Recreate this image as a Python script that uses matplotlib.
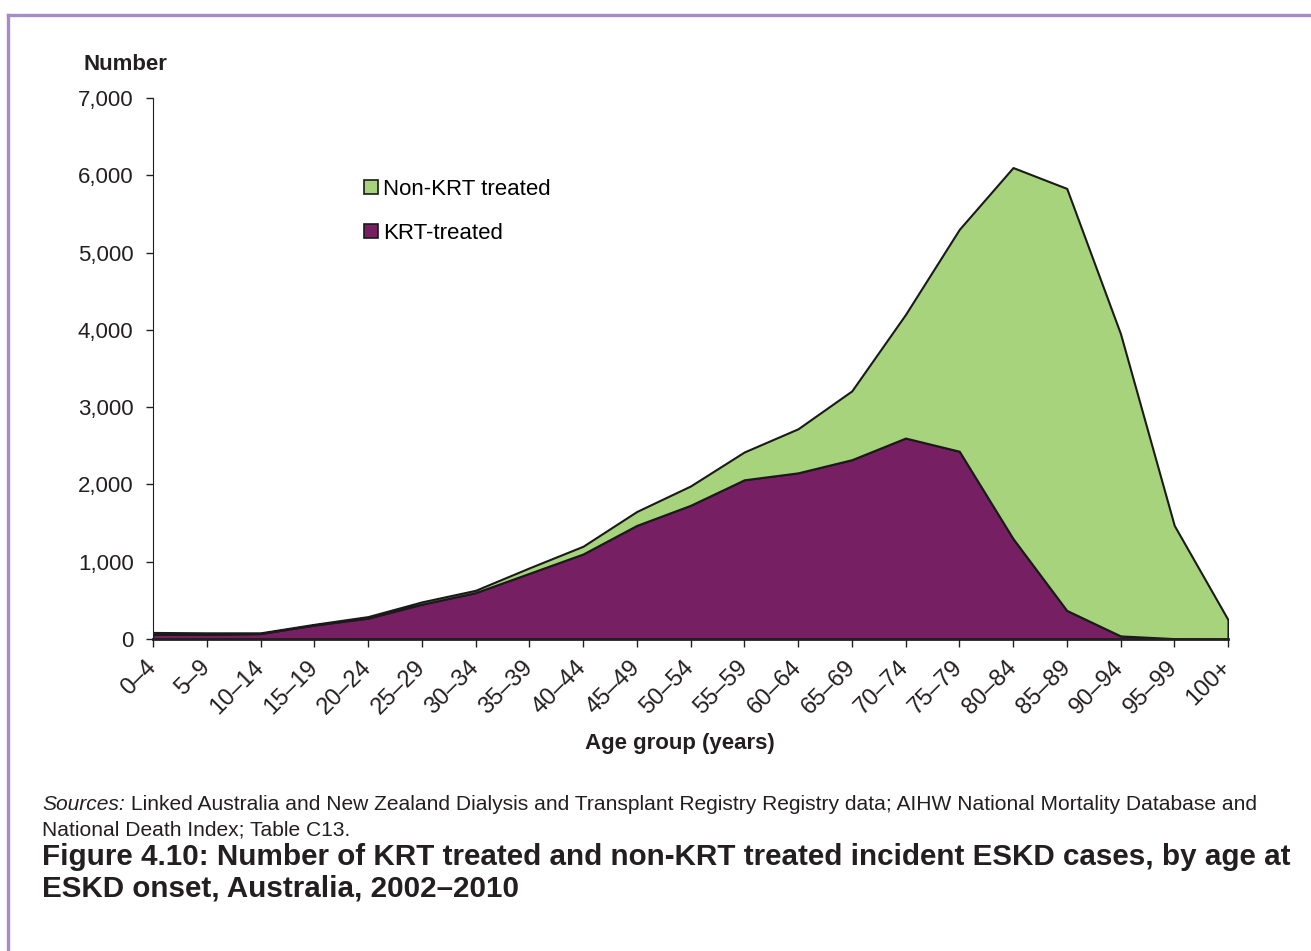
import matplotlib
matplotlib.use("Agg")
import matplotlib.pyplot as plt
from matplotlib.lines import Line2D
from matplotlib.ticker import FuncFormatter

plt.rcParams['font.family'] = ['Liberation Sans', 'DejaVu Sans']

age_groups = ['0–4', '5–9', '10–14', '15–19', '20–24', '25–29', '30–34', '35–39',
              '40–44', '45–49', '50–54', '55–59', '60–64', '65–69', '70–74', '75–79',
              '80–84', '85–89', '90–94', '95–99', '100+']
krt = [60, 60, 70, 180, 270, 450, 600, 850, 1100, 1470, 1730, 2060, 2150, 2320,
       2600, 2430, 1300, 370, 40, 5, 0]
total = [85, 80, 80, 190, 290, 480, 630, 920, 1200, 1650, 1980, 2420, 2720, 3210,
         4200, 5300, 6100, 5830, 3950, 1470, 250]
non_krt = [t - k for t, k in zip(total, krt)]

purple = '#762063'
green = '#A7D37C'
ink = '#231f20'

fig = plt.figure(figsize=(13.11, 9.51), dpi=100)
ax = fig.add_axes([153/1311, 1 - 639/951, (1228 - 153)/1311, (639 - 98)/951])

x = list(range(len(age_groups)))
ax.stackplot(x, krt, non_krt, colors=[purple, green], edgecolor='#1a1a1a', linewidth=1.5)

ax.set_xlim(0, len(age_groups) - 1)
ax.set_ylim(0, 7000)
ax.set_yticks(range(0, 7001, 1000))
ax.yaxis.set_major_formatter(FuncFormatter(lambda v, p: f'{int(v):,}'))
ax.set_xticks(x)
ax.set_xticklabels(age_groups, rotation=45, ha='right', va='center', rotation_mode='anchor')

ax.spines['top'].set_visible(False)
ax.spines['right'].set_visible(False)
ax.spines['left'].set_color(ink)
ax.spines['bottom'].set_color(ink)
ax.spines['bottom'].set_linewidth(2)
ax.tick_params(axis='y', length=5, width=1, pad=9, labelsize=16, colors=ink)
ax.tick_params(axis='x', length=6, width=1, pad=12, labelsize=17, colors=ink)

fig.text(680/1311, 1 - 744/951, 'Age group (years)', fontsize=16, fontweight='bold',
         color=ink, ha='center', va='center')
fig.text(125/1311, 1 - 64/951, 'Number', fontsize=16, fontweight='bold', color=ink,
         ha='center', va='center')

handles = [
    Line2D([], [], marker='s', linestyle='none', markersize=10, markerfacecolor=green,
           markeredgecolor='#1a1a1a', markeredgewidth=1.2),
    Line2D([], [], marker='s', linestyle='none', markersize=10, markerfacecolor=purple,
           markeredgecolor='#1a1a1a', markeredgewidth=1.2),
]
fig.legend(handles, ['Non-KRT treated', 'KRT-treated'], loc='upper left',
           bbox_to_anchor=(353/1311, 1 - 170/951), frameon=False, fontsize=16,
           handlelength=0.8, handletextpad=0.15, labelspacing=1.05, borderaxespad=0)

# frame lines
border = '#A68BC6'
fig.add_artist(Line2D([8/1311, 1], [1 - 15/951, 1 - 15/951], color=border, lw=2.4,
                      transform=fig.transFigure))
fig.add_artist(Line2D([8/1311, 8/1311], [0, 1 - 15/951], color=border, lw=2.4,
                      transform=fig.transFigure))

# source note: italic word followed by plain text
src = fig.text(42/1311, 1 - 805/951, 'Sources:', fontsize=15.15, style='italic', color=ink,
               va='center')
fig.canvas.draw()
bb = src.get_window_extent()
fig.text(bb.x1 / fig.bbox.width, 1 - 805/951,
         ' Linked Australia and New Zealand Dialysis and Transplant Registry Registry data; '
         'AIHW National Mortality Database and',
         fontsize=15.15, color=ink, va='center')
fig.text(42/1311, 1 - 830/951, 'National Death Index; Table C13.', fontsize=15.15,
         color=ink, va='center')

fig.text(42/1311, 1 - 873/951,
         'Figure 4.10: Number of KRT treated and non-KRT treated incident ESKD cases, by age at\n'
         'ESKD onset, Australia, 2002–2010',
         fontsize=21.3, fontweight='bold', color=ink, va='center', linespacing=1.15)

fig.savefig('out.png', dpi=100)
